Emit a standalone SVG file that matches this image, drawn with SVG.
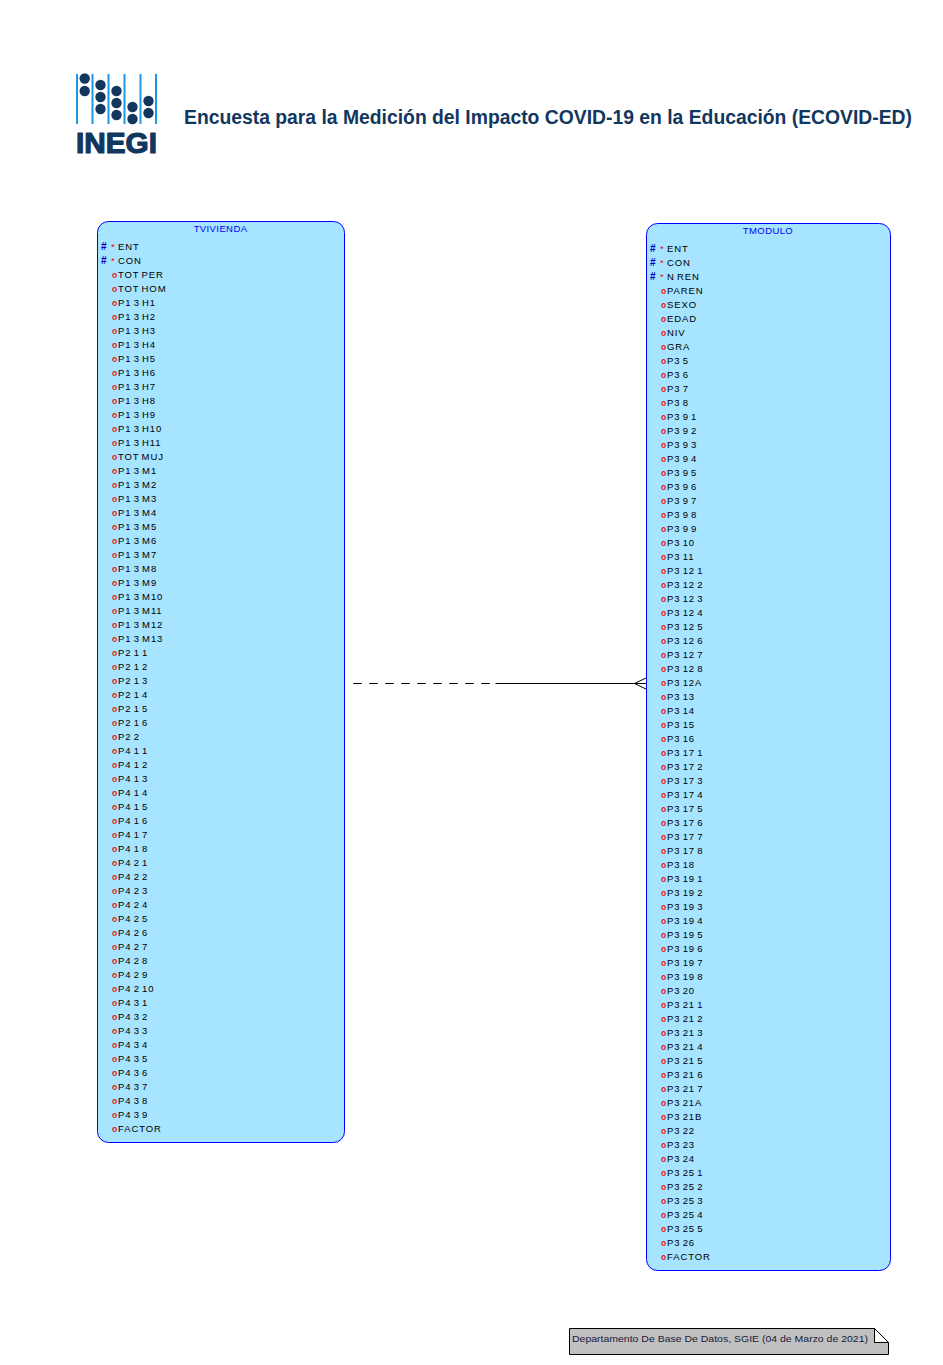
<svg xmlns="http://www.w3.org/2000/svg" width="943" height="1365" viewBox="0 0 943 1365">
<style>
text{font-family:"Liberation Sans",Arial,sans-serif}
.tb{fill:#a6e4ff;stroke:#0000ff;stroke-width:1}
.tt{font-size:9.5px;fill:#0000ff;text-anchor:middle;letter-spacing:.4px}
.r text{font-size:9.5px;letter-spacing:.9px;word-spacing:-1.3px;fill:#000}
.o{fill:#f01010;font-weight:bold;font-size:8.5px}
.h{fill:#0000c8;font-weight:bold;font-size:10px}
.s{fill:#f01010}
.l{stroke:#1e96e6;stroke-width:2}
.d{fill:#12375e}
.c{stroke:#000;stroke-width:1;fill:none}
</style>
<rect width="943" height="1365" fill="#fff"/>
<g id="logo">
<path class="l" d="M77 74V124M92.500 74V124M108.500 74V124M124.500 74V124M140.500 74V124M156 74V124"/>
<circle class="d" cx="84.700" cy="78.500" r="5.200"/><circle class="d" cx="84.700" cy="91" r="5.200"/>
<circle class="d" cx="100.500" cy="85" r="5.200"/><circle class="d" cx="100.500" cy="97" r="5.200"/><circle class="d" cx="100.500" cy="109" r="5.200"/>
<circle class="d" cx="116.500" cy="91" r="5.200"/><circle class="d" cx="116.500" cy="103" r="5.200"/><circle class="d" cx="116.500" cy="115" r="5.200"/>
<circle class="d" cx="132.500" cy="107" r="5.200"/><circle class="d" cx="132.500" cy="119" r="5.200"/>
<circle class="d" cx="148.500" cy="101" r="5.200"/><circle class="d" cx="148.500" cy="113" r="5.200"/>
<text x="76" y="152.500" font-size="29" font-weight="bold" fill="#12375e" stroke="#12375e" stroke-width="1.200" stroke-linejoin="round" textLength="81" lengthAdjust="spacingAndGlyphs">INEGI</text>
</g>
<text id="title" x="184" y="124" font-size="19.500" font-weight="bold" fill="#12375e" textLength="728" lengthAdjust="spacingAndGlyphs">Encuesta para la Medición del Impacto COVID-19 en la Educación (ECOVID-ED)</text>
<g id="connectors">
<path class="c" d="M353.300 683.500H495" stroke-dasharray="8.500 7.500"/>
<path class="c" d="M495.500 683.500H647M647 677.500L634.500 683.500L647 689.500"/>
</g>
<g id="TVIVIENDA">
<rect class="tb" x="97.500" y="221.500" width="247" height="921" rx="11"/>
<text class="tt" x="220.500" y="232">TVIVIENDA</text>
<g class="r">
<text y="250"><tspan class="h" x="101">#</tspan><tspan class="s" x="111">*</tspan><tspan x="118">ENT</tspan></text>
<text y="264"><tspan class="h" x="101">#</tspan><tspan class="s" x="111">*</tspan><tspan x="118">CON</tspan></text>
<text y="278"><tspan class="o" x="112">o</tspan><tspan x="118">TOT PER</tspan></text>
<text y="292"><tspan class="o" x="112">o</tspan><tspan x="118">TOT HOM</tspan></text>
<text y="306"><tspan class="o" x="112">o</tspan><tspan x="118">P1 3 H1</tspan></text>
<text y="320"><tspan class="o" x="112">o</tspan><tspan x="118">P1 3 H2</tspan></text>
<text y="334"><tspan class="o" x="112">o</tspan><tspan x="118">P1 3 H3</tspan></text>
<text y="348"><tspan class="o" x="112">o</tspan><tspan x="118">P1 3 H4</tspan></text>
<text y="362"><tspan class="o" x="112">o</tspan><tspan x="118">P1 3 H5</tspan></text>
<text y="376"><tspan class="o" x="112">o</tspan><tspan x="118">P1 3 H6</tspan></text>
<text y="390"><tspan class="o" x="112">o</tspan><tspan x="118">P1 3 H7</tspan></text>
<text y="404"><tspan class="o" x="112">o</tspan><tspan x="118">P1 3 H8</tspan></text>
<text y="418"><tspan class="o" x="112">o</tspan><tspan x="118">P1 3 H9</tspan></text>
<text y="432"><tspan class="o" x="112">o</tspan><tspan x="118">P1 3 H10</tspan></text>
<text y="446"><tspan class="o" x="112">o</tspan><tspan x="118">P1 3 H11</tspan></text>
<text y="460"><tspan class="o" x="112">o</tspan><tspan x="118">TOT MUJ</tspan></text>
<text y="474"><tspan class="o" x="112">o</tspan><tspan x="118">P1 3 M1</tspan></text>
<text y="488"><tspan class="o" x="112">o</tspan><tspan x="118">P1 3 M2</tspan></text>
<text y="502"><tspan class="o" x="112">o</tspan><tspan x="118">P1 3 M3</tspan></text>
<text y="516"><tspan class="o" x="112">o</tspan><tspan x="118">P1 3 M4</tspan></text>
<text y="530"><tspan class="o" x="112">o</tspan><tspan x="118">P1 3 M5</tspan></text>
<text y="544"><tspan class="o" x="112">o</tspan><tspan x="118">P1 3 M6</tspan></text>
<text y="558"><tspan class="o" x="112">o</tspan><tspan x="118">P1 3 M7</tspan></text>
<text y="572"><tspan class="o" x="112">o</tspan><tspan x="118">P1 3 M8</tspan></text>
<text y="586"><tspan class="o" x="112">o</tspan><tspan x="118">P1 3 M9</tspan></text>
<text y="600"><tspan class="o" x="112">o</tspan><tspan x="118">P1 3 M10</tspan></text>
<text y="614"><tspan class="o" x="112">o</tspan><tspan x="118">P1 3 M11</tspan></text>
<text y="628"><tspan class="o" x="112">o</tspan><tspan x="118">P1 3 M12</tspan></text>
<text y="642"><tspan class="o" x="112">o</tspan><tspan x="118">P1 3 M13</tspan></text>
<text y="656"><tspan class="o" x="112">o</tspan><tspan x="118">P2 1 1</tspan></text>
<text y="670"><tspan class="o" x="112">o</tspan><tspan x="118">P2 1 2</tspan></text>
<text y="684"><tspan class="o" x="112">o</tspan><tspan x="118">P2 1 3</tspan></text>
<text y="698"><tspan class="o" x="112">o</tspan><tspan x="118">P2 1 4</tspan></text>
<text y="712"><tspan class="o" x="112">o</tspan><tspan x="118">P2 1 5</tspan></text>
<text y="726"><tspan class="o" x="112">o</tspan><tspan x="118">P2 1 6</tspan></text>
<text y="740"><tspan class="o" x="112">o</tspan><tspan x="118">P2 2</tspan></text>
<text y="754"><tspan class="o" x="112">o</tspan><tspan x="118">P4 1 1</tspan></text>
<text y="768"><tspan class="o" x="112">o</tspan><tspan x="118">P4 1 2</tspan></text>
<text y="782"><tspan class="o" x="112">o</tspan><tspan x="118">P4 1 3</tspan></text>
<text y="796"><tspan class="o" x="112">o</tspan><tspan x="118">P4 1 4</tspan></text>
<text y="810"><tspan class="o" x="112">o</tspan><tspan x="118">P4 1 5</tspan></text>
<text y="824"><tspan class="o" x="112">o</tspan><tspan x="118">P4 1 6</tspan></text>
<text y="838"><tspan class="o" x="112">o</tspan><tspan x="118">P4 1 7</tspan></text>
<text y="852"><tspan class="o" x="112">o</tspan><tspan x="118">P4 1 8</tspan></text>
<text y="866"><tspan class="o" x="112">o</tspan><tspan x="118">P4 2 1</tspan></text>
<text y="880"><tspan class="o" x="112">o</tspan><tspan x="118">P4 2 2</tspan></text>
<text y="894"><tspan class="o" x="112">o</tspan><tspan x="118">P4 2 3</tspan></text>
<text y="908"><tspan class="o" x="112">o</tspan><tspan x="118">P4 2 4</tspan></text>
<text y="922"><tspan class="o" x="112">o</tspan><tspan x="118">P4 2 5</tspan></text>
<text y="936"><tspan class="o" x="112">o</tspan><tspan x="118">P4 2 6</tspan></text>
<text y="950"><tspan class="o" x="112">o</tspan><tspan x="118">P4 2 7</tspan></text>
<text y="964"><tspan class="o" x="112">o</tspan><tspan x="118">P4 2 8</tspan></text>
<text y="978"><tspan class="o" x="112">o</tspan><tspan x="118">P4 2 9</tspan></text>
<text y="992"><tspan class="o" x="112">o</tspan><tspan x="118">P4 2 10</tspan></text>
<text y="1006"><tspan class="o" x="112">o</tspan><tspan x="118">P4 3 1</tspan></text>
<text y="1020"><tspan class="o" x="112">o</tspan><tspan x="118">P4 3 2</tspan></text>
<text y="1034"><tspan class="o" x="112">o</tspan><tspan x="118">P4 3 3</tspan></text>
<text y="1048"><tspan class="o" x="112">o</tspan><tspan x="118">P4 3 4</tspan></text>
<text y="1062"><tspan class="o" x="112">o</tspan><tspan x="118">P4 3 5</tspan></text>
<text y="1076"><tspan class="o" x="112">o</tspan><tspan x="118">P4 3 6</tspan></text>
<text y="1090"><tspan class="o" x="112">o</tspan><tspan x="118">P4 3 7</tspan></text>
<text y="1104"><tspan class="o" x="112">o</tspan><tspan x="118">P4 3 8</tspan></text>
<text y="1118"><tspan class="o" x="112">o</tspan><tspan x="118">P4 3 9</tspan></text>
<text y="1132"><tspan class="o" x="112">o</tspan><tspan x="118">FACTOR</tspan></text>
</g>
</g>
<g id="TMODULO">
<rect class="tb" x="646.500" y="223.500" width="244" height="1047" rx="11"/>
<text class="tt" x="768" y="234">TMODULO</text>
<g class="r">
<text y="252"><tspan class="h" x="650">#</tspan><tspan class="s" x="660">*</tspan><tspan x="667">ENT</tspan></text>
<text y="266"><tspan class="h" x="650">#</tspan><tspan class="s" x="660">*</tspan><tspan x="667">CON</tspan></text>
<text y="280"><tspan class="h" x="650">#</tspan><tspan class="s" x="660">*</tspan><tspan x="667">N REN</tspan></text>
<text y="294"><tspan class="o" x="661">o</tspan><tspan x="667">PAREN</tspan></text>
<text y="308"><tspan class="o" x="661">o</tspan><tspan x="667">SEXO</tspan></text>
<text y="322"><tspan class="o" x="661">o</tspan><tspan x="667">EDAD</tspan></text>
<text y="336"><tspan class="o" x="661">o</tspan><tspan x="667">NIV</tspan></text>
<text y="350"><tspan class="o" x="661">o</tspan><tspan x="667">GRA</tspan></text>
<text y="364"><tspan class="o" x="661">o</tspan><tspan x="667">P3 5</tspan></text>
<text y="378"><tspan class="o" x="661">o</tspan><tspan x="667">P3 6</tspan></text>
<text y="392"><tspan class="o" x="661">o</tspan><tspan x="667">P3 7</tspan></text>
<text y="406"><tspan class="o" x="661">o</tspan><tspan x="667">P3 8</tspan></text>
<text y="420"><tspan class="o" x="661">o</tspan><tspan x="667">P3 9 1</tspan></text>
<text y="434"><tspan class="o" x="661">o</tspan><tspan x="667">P3 9 2</tspan></text>
<text y="448"><tspan class="o" x="661">o</tspan><tspan x="667">P3 9 3</tspan></text>
<text y="462"><tspan class="o" x="661">o</tspan><tspan x="667">P3 9 4</tspan></text>
<text y="476"><tspan class="o" x="661">o</tspan><tspan x="667">P3 9 5</tspan></text>
<text y="490"><tspan class="o" x="661">o</tspan><tspan x="667">P3 9 6</tspan></text>
<text y="504"><tspan class="o" x="661">o</tspan><tspan x="667">P3 9 7</tspan></text>
<text y="518"><tspan class="o" x="661">o</tspan><tspan x="667">P3 9 8</tspan></text>
<text y="532"><tspan class="o" x="661">o</tspan><tspan x="667">P3 9 9</tspan></text>
<text y="546"><tspan class="o" x="661">o</tspan><tspan x="667">P3 10</tspan></text>
<text y="560"><tspan class="o" x="661">o</tspan><tspan x="667">P3 11</tspan></text>
<text y="574"><tspan class="o" x="661">o</tspan><tspan x="667">P3 12 1</tspan></text>
<text y="588"><tspan class="o" x="661">o</tspan><tspan x="667">P3 12 2</tspan></text>
<text y="602"><tspan class="o" x="661">o</tspan><tspan x="667">P3 12 3</tspan></text>
<text y="616"><tspan class="o" x="661">o</tspan><tspan x="667">P3 12 4</tspan></text>
<text y="630"><tspan class="o" x="661">o</tspan><tspan x="667">P3 12 5</tspan></text>
<text y="644"><tspan class="o" x="661">o</tspan><tspan x="667">P3 12 6</tspan></text>
<text y="658"><tspan class="o" x="661">o</tspan><tspan x="667">P3 12 7</tspan></text>
<text y="672"><tspan class="o" x="661">o</tspan><tspan x="667">P3 12 8</tspan></text>
<text y="686"><tspan class="o" x="661">o</tspan><tspan x="667">P3 12A</tspan></text>
<text y="700"><tspan class="o" x="661">o</tspan><tspan x="667">P3 13</tspan></text>
<text y="714"><tspan class="o" x="661">o</tspan><tspan x="667">P3 14</tspan></text>
<text y="728"><tspan class="o" x="661">o</tspan><tspan x="667">P3 15</tspan></text>
<text y="742"><tspan class="o" x="661">o</tspan><tspan x="667">P3 16</tspan></text>
<text y="756"><tspan class="o" x="661">o</tspan><tspan x="667">P3 17 1</tspan></text>
<text y="770"><tspan class="o" x="661">o</tspan><tspan x="667">P3 17 2</tspan></text>
<text y="784"><tspan class="o" x="661">o</tspan><tspan x="667">P3 17 3</tspan></text>
<text y="798"><tspan class="o" x="661">o</tspan><tspan x="667">P3 17 4</tspan></text>
<text y="812"><tspan class="o" x="661">o</tspan><tspan x="667">P3 17 5</tspan></text>
<text y="826"><tspan class="o" x="661">o</tspan><tspan x="667">P3 17 6</tspan></text>
<text y="840"><tspan class="o" x="661">o</tspan><tspan x="667">P3 17 7</tspan></text>
<text y="854"><tspan class="o" x="661">o</tspan><tspan x="667">P3 17 8</tspan></text>
<text y="868"><tspan class="o" x="661">o</tspan><tspan x="667">P3 18</tspan></text>
<text y="882"><tspan class="o" x="661">o</tspan><tspan x="667">P3 19 1</tspan></text>
<text y="896"><tspan class="o" x="661">o</tspan><tspan x="667">P3 19 2</tspan></text>
<text y="910"><tspan class="o" x="661">o</tspan><tspan x="667">P3 19 3</tspan></text>
<text y="924"><tspan class="o" x="661">o</tspan><tspan x="667">P3 19 4</tspan></text>
<text y="938"><tspan class="o" x="661">o</tspan><tspan x="667">P3 19 5</tspan></text>
<text y="952"><tspan class="o" x="661">o</tspan><tspan x="667">P3 19 6</tspan></text>
<text y="966"><tspan class="o" x="661">o</tspan><tspan x="667">P3 19 7</tspan></text>
<text y="980"><tspan class="o" x="661">o</tspan><tspan x="667">P3 19 8</tspan></text>
<text y="994"><tspan class="o" x="661">o</tspan><tspan x="667">P3 20</tspan></text>
<text y="1008"><tspan class="o" x="661">o</tspan><tspan x="667">P3 21 1</tspan></text>
<text y="1022"><tspan class="o" x="661">o</tspan><tspan x="667">P3 21 2</tspan></text>
<text y="1036"><tspan class="o" x="661">o</tspan><tspan x="667">P3 21 3</tspan></text>
<text y="1050"><tspan class="o" x="661">o</tspan><tspan x="667">P3 21 4</tspan></text>
<text y="1064"><tspan class="o" x="661">o</tspan><tspan x="667">P3 21 5</tspan></text>
<text y="1078"><tspan class="o" x="661">o</tspan><tspan x="667">P3 21 6</tspan></text>
<text y="1092"><tspan class="o" x="661">o</tspan><tspan x="667">P3 21 7</tspan></text>
<text y="1106"><tspan class="o" x="661">o</tspan><tspan x="667">P3 21A</tspan></text>
<text y="1120"><tspan class="o" x="661">o</tspan><tspan x="667">P3 21B</tspan></text>
<text y="1134"><tspan class="o" x="661">o</tspan><tspan x="667">P3 22</tspan></text>
<text y="1148"><tspan class="o" x="661">o</tspan><tspan x="667">P3 23</tspan></text>
<text y="1162"><tspan class="o" x="661">o</tspan><tspan x="667">P3 24</tspan></text>
<text y="1176"><tspan class="o" x="661">o</tspan><tspan x="667">P3 25 1</tspan></text>
<text y="1190"><tspan class="o" x="661">o</tspan><tspan x="667">P3 25 2</tspan></text>
<text y="1204"><tspan class="o" x="661">o</tspan><tspan x="667">P3 25 3</tspan></text>
<text y="1218"><tspan class="o" x="661">o</tspan><tspan x="667">P3 25 4</tspan></text>
<text y="1232"><tspan class="o" x="661">o</tspan><tspan x="667">P3 25 5</tspan></text>
<text y="1246"><tspan class="o" x="661">o</tspan><tspan x="667">P3 26</tspan></text>
<text y="1260"><tspan class="o" x="661">o</tspan><tspan x="667">FACTOR</tspan></text>
</g>
</g>
<g id="note">
<path d="M569.500 1328.500H874.500L888.500 1342.500V1354.500H569.500Z" fill="#c0c0c0" stroke="#000"/>
<path d="M874.500 1328.500V1342.500H888.500Z" fill="#fff" stroke="#000"/>
<text x="572" y="1342" font-size="9.500" fill="#1a1a3a" textLength="296" lengthAdjust="spacingAndGlyphs">Departamento De Base De Datos, SGIE (04 de Marzo de 2021)</text>
</g>
</svg>
